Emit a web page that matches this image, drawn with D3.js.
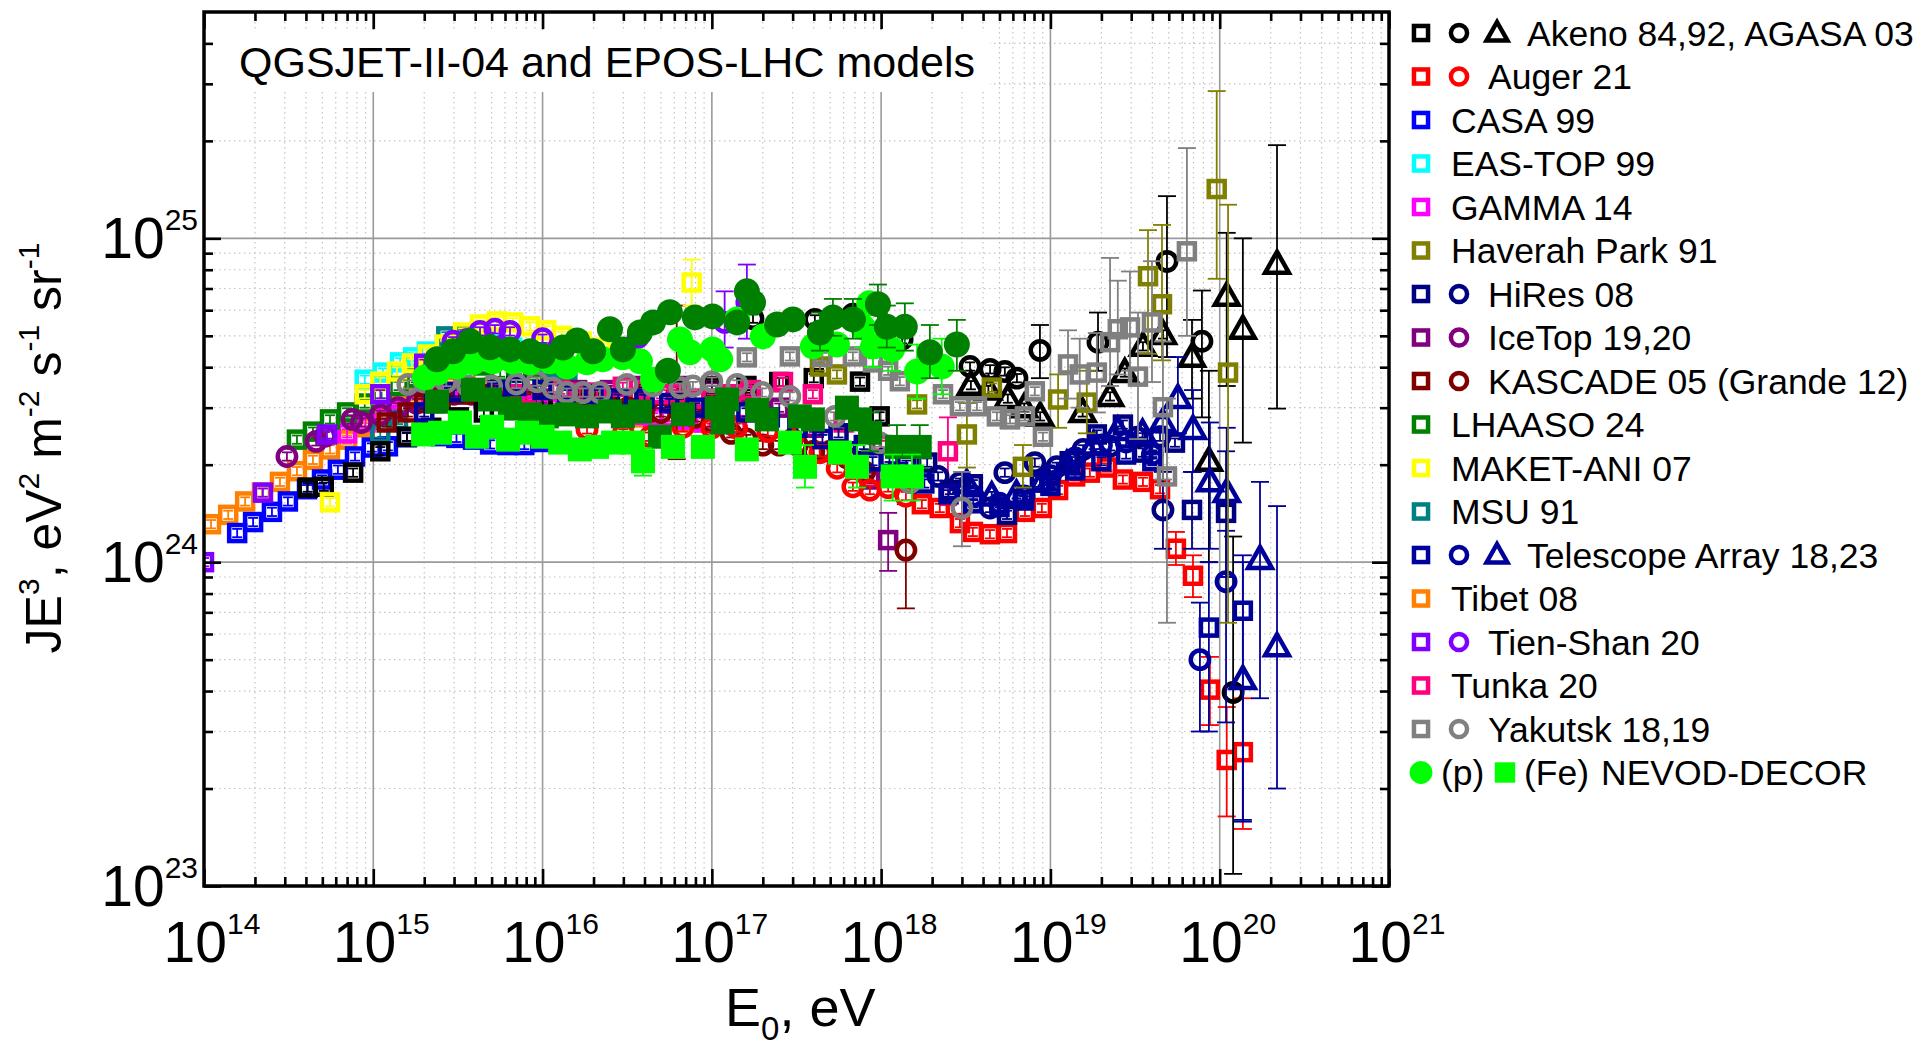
<!DOCTYPE html>
<html>
<head>
<meta charset="utf-8">
<script src="https://cdn.jsdelivr.net/npm/d3@7"></script>
<style>
  body { margin: 0; background: #fff; }
  text { font-family: "Liberation Sans", Arial, sans-serif; fill: #000; }
</style>
</head>
<body>
<svg id="chart" width="1920" height="1048"></svg>
<script>
// ---- data: [E (eV), JE^3, errLow, errHigh] ; errors only where the bar is visible
const tibet = [[1.1e14,1.31e24],[1.39e14,1.40e24],[1.75e14,1.54e24],[2.2e14,1.64e24],[2.81e14,1.77e24],[3.54e14,1.91e24],[4.4e14,2.07e24],[5.55e14,2.23e24],[7.0e14,2.39e24],[8.9e14,2.61e24],[1.12e15,2.82e24],[1.4e15,3.03e24],[1.72e15,3.25e24],[2.2e15,3.4e24],[2.8e15,3.5e24],[3.5e15,3.5e24],[4.5e15,3.4e24],[5.6e15,3.3e24],[7e15,3.2e24],[9e15,3.1e24],[1.1e16,3.0e24],[1.4e16,3.0e24],[1.8e16,2.9e24],[2.2e16,2.9e24],[2.8e16,2.9e24],[3.5e16,2.8e24],[4.5e16,2.8e24],[5.6e16,2.8e24],[7e16,2.7e24],[9e16,2.7e24]];
const casa = [[1.57e14,1.23e24],[1.95e14,1.33e24],[2.52e14,1.43e24],[3.13e14,1.54e24],[4.06e14,1.68e24],[4.98e14,1.80e24],[6.18e14,1.93e24],[7.8e14,2.12e24],[9.8e14,2.26e24],[1.22e15,2.28e24],[1.58e15,2.43e24],[1.94e15,2.51e24],[2.5e15,2.45e24],[3.1e15,2.42e24],[3.88e15,2.39e24],[4.9e15,2.31e24],[6.2e15,2.3e24],[7.8e15,2.3e24],[9.8e15,2.35e24]];
const easTop = [[8.9e14,3.66e24],[1.14e15,3.85e24],[1.44e15,4.14e24],[1.72e15,4.29e24],[2.07e15,4.47e24],[2.65e15,4.7e24],[3.3e15,4.8e24],[4.2e15,4.8e24],[5.3e15,4.7e24],[6.6e15,4.6e24]];
const gamma = [[7e14,2.5e24],[9e14,2.7e24],[1.2e15,2.85e24],[1.4e15,2.95e24],[1.8e15,3.15e24],[2.2e15,3.3e24],[2.8e15,3.35e24],[3.5e15,3.3e24],[4.5e15,3.2e24],[5.6e15,3.15e24],[7e15,3.1e24],[9e15,3.05e24],[1.1e16,3.0e24],[1.4e16,3.0e24],[1.8e16,2.95e24],[2.2e16,2.9e24],[2.8e16,2.9e24],[3.5e16,2.85e24],[4.5e16,2.8e24],[5.6e16,2.8e24],[7e16,2.75e24],[9e16,2.7e24],[1.1e17,2.7e24],[1.4e17,2.65e24]];
const maket = [[5.55e14,1.53e24],[8.9e14,3.3e24],[1.1e15,3.61e24],[1.38e15,3.88e24],[1.69e15,4.11e24],[2.1e15,4.38e24],[2.65e15,4.7e24],[3.39e15,5.12e24],[4.27e15,5.42e24],[5.38e15,5.54e24],[6.69e15,5.5e24],[8.43e15,5.35e24],[1.05e16,5.2e24],[1.3e16,5.0e24],[1.7e16,4.8e24],[2.2e16,4.6e24],[3e16,4.3e24],[7.6e16,7.3e24,6.2e24,8.6e24]];
const msu = [[1.1e15,2.5e24],[1.4e15,2.75e24],[2.0e15,3.5e24],[2.7e15,4.98e24],[3.5e15,5.0e24],[4.5e15,4.8e24],[5.6e15,4.6e24],[7.1e15,4.4e24],[9e15,4.2e24],[1.1e16,4.0e24],[1.4e16,3.9e24]];
const lhaaso = [[3.54e14,2.39e24],[4.4e14,2.53e24],[5.55e14,2.76e24],[7.0e14,2.90e24],[8.9e14,3.09e24],[1.12e15,3.3e24],[1.41e15,3.5e24],[1.78e15,3.7e24],[2.24e15,3.9e24],[2.82e15,4.05e24],[3.55e15,4.15e24],[4.47e15,4.05e24],[5.62e15,3.85e24],[7.08e15,3.7e24],[8.91e15,3.55e24],[1.12e16,3.45e24],[1.41e16,3.35e24],[1.78e16,3.3e24],[2.24e16,3.25e24],[2.82e16,3.2e24]];
const tienShanSq = [[1.0e14,1.0e24],[2.23e14,1.64e24],[5.33e14,2.48e24],[1.1e15,3.3e24],[2e15,4.1e24],[3e15,4.5e24]];
const tienShanCirc = [[2.96e15,4.81e24],[3.58e15,4.87e24],[4.27e15,5.16e24],[5.23e15,5.24e24],[6.42e15,5.16e24],[1e16,4.9e24],[3.66e16,4.94e24],[1.19e17,5.5e24,4.6e24,6.86e24],[1.61e17,6.34e24,4.9e24,8.3e24]];
const iceTopCirc = [[3.09e14,2.12e24],[4.6e14,2.36e24],[5.2e14,2.45e24],[7.5e14,2.76e24],[8.5e14,2.7e24],[1.1e15,2.85e24],[1.4e15,3.0e24],[1.8e15,3.1e24],[2.3e15,3.2e24],[3e15,3.3e24],[3.8e15,3.3e24],[5e15,3.2e24]];
const iceTopSq = [[3e15,3.3e24],[4.5e15,3.2e24],[6.3e15,3.1e24],[1e16,3.2e24],[1.6e16,3.4e24],[2.5e16,3.4e24],[4e16,3.5e24],[6.3e16,3.5e24],[1e17,3.4e24],[1.6e17,3.3e24],[2.5e17,3.0e24],[4e17,2.6e24],[6.3e17,2.2e24],[8.6e17,1.8e24],[1.1e18,1.17e24,9.4e23,1.42e24]];
const kascadeSq = [[1.2e15,2.7e24],[1.6e15,2.9e24],[2e15,3.1e24],[2.5e15,3.2e24],[3.2e15,3.3e24],[4e15,3.3e24],[5e15,3.3e24],[6.3e15,3.3e24],[8e15,3.2e24],[1e16,3.1e24],[1.6e16,3.0e24],[2.5e16,2.9e24],[4e16,2.9e24],[6.3e16,3.0e24],[1e17,3.1e24]];
const kascadeCirc = [[1.6e16,3.2e24],[2e16,3.1e24],[2.5e16,3.0e24],[3.2e16,3.0e24],[4e16,3.0e24],[5e16,2.9e24],[6.2e16,3.3e24,2.08e24,6.2e24],[8e16,2.8e24],[1e17,2.7e24],[1.3e17,2.5e24],[1.6e17,2.4e24],[2e17,2.3e24],[2.5e17,2.3e24],[3.2e17,2.3e24],[4e17,2.2e24],[5e17,2.2e24],[6.3e17,2.1e24],[8e17,1.9e24],[1.4e18,1.09e24,7.2e23,1.51e24]];
const akenoSq = [[4.1e14,1.70e24],[5.1e14,1.71e24],[7.6e14,1.89e24],[1.1e15,2.2e24],[1.58e15,2.44e24],[2.2e15,2.6e24],[3.2e15,2.8e24],[4.5e15,2.9e24],[6.3e15,3.0e24],[1e16,3.1e24],[1.6e16,3.1e24],[2.5e16,3.2e24],[4e16,3.3e24],[6.3e16,3.4e24],[1e17,3.5e24],[1.6e17,3.5e24],[2.5e17,3.6e24],[4e17,3.7e24],[7.5e17,3.61e24],[9.8e17,2.82e24]];
const akenoCirc = [[1.75e17,5.65e24],[4.06e17,5.62e24],[6.8e17,5.83e24],[1.33e18,4.88e24],[3.35e18,4.02e24],[4.4e18,3.94e24],[5.38e18,3.88e24],[6.34e18,3.7e24],[8.67e18,4.51e24,3.7e24,5.4e24],[1.91e19,4.78e24,3.9e24,5.9e24],[4.88e19,8.49e24,4.3e24,1.35e25],[7.85e19,4.81e24,2.8e24,6.9e24],[1.2e20,3.96e23,1.09e23,1.2e24]];
const agasaTri = [[3.39e18,3.52e24],[4.3e18,3.4e24],[5.6e18,3.2e24],[7e18,3.0e24],[8.7e18,2.82e24],[1.55e19,2.9e24],[2.25e19,3.25e24],[2.75e19,3.85e24],[3.52e19,4.64e24],[4.62e19,5.05e24],[6.86e19,4.29e24,3.2e24,5.6e24],[8.63e19,2.05e24,1.0e24,3.9e24],[1.10e20,6.62e24,3.5e24,1.04e25],[1.37e20,5.24e24,2.34e24,1.0e25],[2.18e20,8.32e24,2.98e24,1.94e25]];
const tunka = [[6e15,3.3e24],[8e15,3.3e24],[1e16,3.4e24],[1.27e16,3.41e24],[1.66e16,3.34e24],[2.1e16,3.34e24],[2.98e16,3.48e24],[4e16,3.4e24],[5e16,3.3e24],[6.3e16,3.3e24],[8e16,3.2e24],[1e17,3.2e24],[1.3e17,3.3e24],[1.7e17,3.4e24],[2.63e17,3.6e24],[3.95e17,3.3e24],[6e17,2.7e24],[1e18,2.3e24],[2.48e18,2.2e24,1.5e24,2.8e24]];
const augerCirc = [[1.83e16,2.57e24],[3e16,2.5e24],[4.31e16,2.44e24],[6.75e16,2.61e24],[1e17,2.6e24],[1.4e17,2.6e24],[2.14e17,2.53e24],[3e17,2.4e24],[4.35e17,2.18e24],[5.5e17,1.95e24],[6.81e17,1.71e24],[8.58e17,1.67e24],[1.1e18,1.7e24],[1.4e18,1.6e24]];
const augerSq = [[1.74e18,1.51e24],[2.22e18,1.47e24],[2.92e18,1.32e24],[3.48e18,1.24e24],[4.39e18,1.22e24],[5.54e18,1.23e24],[7.07e18,1.43e24],[8.9e18,1.47e24],[1.11e19,1.67e24],[1.4e19,1.84e24],[1.71e19,1.89e24],[2.16e19,1.96e24],[2.68e19,1.8e24],[3.52e19,1.77e24],[4.44e19,1.68e24],[5.51e19,1.10e24,9.8e23,1.24e24],[6.95e19,9.08e23,7.8e23,1.05e24],[8.75e19,4.04e23,3.14e23,5.1e23],[1.10e20,2.45e23,1.64e23,3.57e23],[1.37e20,2.59e23,1.5e23,3.8e23]];
const hiresSq = [[5.6e17,2.5e24],[7.9e17,2.3e24],[1.12e18,2.1e24],[1.41e18,2.0e24],[1.87e18,2.03e24],[2.55e18,1.67e24],[3.48e18,1.74e24],[5.54e18,1.40e24],[6.88e18,1.56e24],[8.67e18,1.76e24],[1.3e19,2.05e24],[1.88e19,2.48e24],[2.68e19,2.66e24],[3.52e19,2.18e24],[5.44e19,2.34e24],[6.86e19,1.45e24,1.1e24,1.9e24],[1.09e20,1.42e24,9.0e23,2.2e24]];
const hiresCirc = [[2.17e18,1.84e24],[2.92e18,1.76e24],[4.4e18,1.47e24],[5.38e18,1.89e24],[8.09e18,2.03e24],[1.09e19,1.97e24],[1.56e19,2.23e24],[2.25e19,2.28e24],[3.24e19,2.43e24],[4.44e19,2.44e24],[4.62e19,1.45e24,1.1e24,1.9e24]];
const taSq = [[2.0e15,2.9e24],[2.3e15,3.1e24],[3.0e15,3.35e24],[3.8e15,3.4e24],[5.4e15,3.4e24],[7e15,3.5e24],[1e16,3.4e24],[1.4e16,3.3e24],[2e16,3.3e24],[2.8e16,3.2e24],[4e16,3.2e24],[5.6e16,3.1e24],[8e16,3.0e24],[1.1e17,3.0e24],[1.6e17,2.9e24],[2.2e17,2.8e24],[3.2e17,2.6e24],[4.5e17,2.4e24],[6.3e17,2.2e24],[8.9e17,2.05e24],[1.26e18,1.9e24],[1.8e18,1.75e24],[2.5e18,1.62e24],[3.5e18,1.52e24],[5e18,1.48e24],[7e18,1.55e24],[1e19,1.72e24],[1.4e19,1.92e24],[2e19,2.05e24],[2.8e19,2.15e24],[4e19,2.05e24],[8.63e19,6.28e23,3.0e23,1.0e24],[1.37e20,7.08e23,1.58e23,1.05e24]];
const taCirc = [[3.5e18,1.6e24],[5e18,1.52e24],[7e18,1.6e24],[1e19,1.85e24],[1.4e19,2.1e24],[2e19,2.3e24],[2.8e19,2.35e24],[4e19,2.15e24],[7.64e19,5.0e23,3.0e23,7.5e23],[1.09e20,8.71e23,3.2e23,1.25e24]];
const taTri = [[3.2e18,1.75e24],[4.5e18,1.6e24],[6.3e18,1.62e24],[9e18,1.78e24],[1.25e19,2.0e24],[1.8e19,2.3e24],[2.5e19,2.55e24],[3.5e19,2.5e24],[4.6e19,2.7e24],[5.66e19,3.2e24,2.5e24,4.3e24],[6.95e19,2.57e24,1.9e24,3.4e24],[8.75e19,1.77e24,1.1e24,2.7e24],[1.10e20,1.64e24,9e23,2.6e24],[1.37e20,4.34e23,1.6e23,1.0e24],[1.73e20,1.02e24,3.8e23,1.77e24],[2.18e20,5.48e23,2.0e23,1.49e24]];
const haverah = [[4.35e17,4.02e24],[5.48e17,3.8e24],[1.63e18,3.07e24],[3.21e18,2.48e24,1.96e24,3.1e24],[4.51e18,3.46e24],[6.88e18,1.97e24,1.7e24,2.3e24],[1.11e19,3.18e24,2.6e24,3.8e24],[1.64e19,3.11e24,2.5e24,3.9e24],[3.77e19,7.64e24,4.4e24,1.06e25],[4.56e19,6.26e24,4.2e24,1.1e25],[9.6e19,1.42e25,7.5e24,2.85e25],[1.12e20,3.85e24,6.5e23,1.27e25]];
const yakutskCirc = [[1.6e15,3.54e24],[2e15,3.6e24],[2.7e15,3.6e24],[3.6e15,3.5e24],[5e15,3.5e24],[7e15,3.55e24],[9.27e15,3.61e24],[1.15e16,3.45e24],[1.39e16,3.34e24],[1.73e16,3.34e24],[2.18e16,3.34e24],[3.15e16,3.54e24],[4.5e16,3.5e24],[6.48e16,3.46e24],[7.73e16,3.5e24],[1.0e17,3.61e24],[1.41e17,3.54e24],[1.98e17,3.34e24],[2.89e17,3.25e24],[5.33e17,2.82e24],[9.8e17,2.34e24],[1.48e18,1.76e24],[3.0e18,1.47e24,1.12e24,1.9e24]];
const yakutskSq = [[1.61e17,4.29e24],[2.89e17,4.32e24],[4.5e17,4.3e24],[6.81e17,4.32e24],[8.95e17,4.14e24],[1.1e18,3.9e24],[1.29e18,3.62e24],[2.32e18,3.3e24],[2.92e18,3.03e24],[3.68e18,3.03e24],[4.83e18,2.82e24],[5.77e18,2.76e24],[7.07e18,2.82e24],[8.09e18,3.37e24],[9.03e18,2.44e24],[1.27e19,4.08e24,3.2e24,5.2e24],[1.49e19,3.8e24,3.0e24,4.9e24],[1.88e19,3.85e24,2.9e24,5.1e24],[2.25e19,4.78e24,3.5e24,8.7e24],[2.5e19,5.24e24,3.8e24,7.4e24],[2.95e19,5.31e24,3.9e24,7.9e24],[3.29e19,3.74e24,2.4e24,5.9e24],[3.98e19,5.5e24,3.6e24,8.5e24],[4.62e19,3.01e24,1.8e24,4.8e24],[4.88e19,1.84e24,6.5e23,3.2e24],[6.4e19,9.12e24,5.0e24,1.9e25]];
// NEVOD-DECOR, two interaction models (dark / light green)
const nevodFeDark = [[2.38e15,3.13e24],[3.88e15,3.41e24],[4.89e15,3.18e24],[6.42e15,2.98e24],[8.43e15,2.86e24],[1.06e16,2.82e24],[1.39e16,2.86e24],[1.83e16,2.82e24],[2.5e16,2.92e24],[2.98e16,2.82e24],[3.76e16,2.92e24],[4.93e16,2.44e24],[6.75e16,2.86e24],[1.07e17,3.0e24],[1.23e17,3.18e24],[1.16e17,2.7e24],[1.85e17,2.95e24],[2.11e17,2.76e24],[3.31e17,2.82e24],[3.95e17,2.76e24],[6.28e17,3.0e24],[7.5e17,2.76e24],[8.6e17,2.51e24,2.2e24,2.9e24],[1.24e18,2.27e24,1.95e24,2.65e24],[1.69e18,2.27e24,1.95e24,2.65e24]];
const nevodFeLight = [[1.97e15,2.48e24],[2.48e15,2.51e24],[3.25e15,2.70e24],[4.10e15,2.44e24],[5.03e15,2.62e24],[6.25e15,2.39e24],[8.09e15,2.51e24],[1.0e16,2.44e24],[1.27e16,2.34e24],[1.66e16,2.23e24],[2.10e16,2.27e24],[2.61e16,2.34e24],[3.42e16,2.34e24],[3.92e16,2.05e24,1.85e24,2.25e24],[5.89e16,2.27e24],[8.85e16,2.27e24],[1.61e17,2.23e24],[2.89e17,2.34e24],[3.55e17,1.97e24,1.7e24,2.3e24],[5.71e17,2.18e24],[7.2e17,1.97e24,1.7e24,2.3e24],[1.17e18,1.84e24,1.55e24,2.15e24],[1.52e18,1.84e24,1.55e24,2.15e24]];
const nevodPLight = [[2.02e15,3.72e24],[2.41e15,3.85e24],[3.12e15,4.02e24],[3.88e15,4.14e24],[5.09e15,4.17e24],[6.69e15,4.17e24],[8.43e15,4.14e24],[1.11e16,4.17e24],[1.39e16,4.02e24],[1.83e16,4.14e24],[2.27e16,4.23e24],[2.98e16,4.29e24],[3.76e16,4.17e24],[4.49e16,3.66e24],[6.48e16,4.87e24],[7.43e16,4.45e24],[1.01e17,4.54e24],[1.12e17,4.23e24],[1.41e17,5.62e24],[2.0e17,4.98e24],[3.95e17,4.64e24],[5.48e17,4.70e24],[7.81e17,5.31e24,4.6e24,6.1e24],[8.5e17,6.3e24],[8.95e17,4.64e24,4.0e24,5.4e24],[1.16e18,4.54e24,3.9e24,5.3e24],[1.63e18,3.88e24,3.2e24,4.7e24],[2.28e18,4.02e24,3.3e24,4.9e24]];
const nevodPDark = [[2.38e15,4.23e24],[2.96e15,4.48e24],[3.73e15,4.81e24],[4.89e15,4.61e24],[6.42e15,4.54e24],[8.43e15,4.48e24],[1.0e16,4.34e24],[1.32e16,4.60e24],[1.60e16,4.84e24],[1.99e16,4.48e24],[2.50e16,5.24e24],[2.98e16,4.54e24],[3.76e16,5.12e24],[4.49e16,5.50e24],[5.5e16,3.9e24],[5.65e16,5.91e24],[7.94e16,5.70e24],[1.01e17,5.74e24],[1.41e17,5.50e24],[1.61e17,6.86e24],[1.75e17,6.34e24],[2.43e17,5.42e24],[3.01e17,5.62e24],[4.35e17,5.12e24,4.5e24,5.9e24],[5.19e17,5.70e24,5.0e24,6.5e24],[6.81e17,5.62e24,4.9e24,6.5e24],[9.57e17,6.26e24,5.4e24,7.2e24],[1.08e18,5.33e24,4.6e24,6.2e24],[1.38e18,5.33e24,4.5e24,6.3e24],[1.94e18,4.45e24,3.7e24,5.4e24],[2.80e18,4.70e24,3.9e24,5.6e24]];

// ---- colours
const cBlack = '#000000', cRed = '#ff0000', cBlue = '#0000ff', cCyan = '#00ffff', cMagenta = '#ff00ff';
const cOlive = '#808000', cNavy = '#000080', cTA = '#00009a', cPurple = '#800080', cMaroon = '#800000';
const cGreen = '#008000', cYellow = '#ffff00', cTeal = '#008080', cOrange = '#ff8000', cViolet = '#8000ff';
const cPink = '#ff0080', cGrey = '#808080', cLime = '#00ff00';

// ---- layout
const X0 = 204, X1 = 1389, Y0 = 12, Y1 = 886;
const svg = d3.select('#chart');
const x = d3.scaleLog().domain([1e14, 1e21]).range([X0, X1]);
const y = d3.scaleLog().domain([1e23, 5e25]).range([Y1, Y0]);

const xMajor = d3.range(14, 22).map(e => Math.pow(10, e));
const xMinor = [];
for (let e = 14; e < 21; e++) for (let k = 2; k <= 9; k++) xMinor.push(k * Math.pow(10, e));
const yMajor = [1e23, 1e24, 1e25];
const yMinor = [];
for (let e = 23; e < 26; e++) for (let k = 2; k <= 9; k++) { const v = k * Math.pow(10, e); if (v < 5e25) yMinor.push(v); }

// ---- grid
const grid = svg.append('g');
grid.selectAll('.gxm').data(xMinor).join('line')
  .attr('x1', d => x(d)).attr('x2', d => x(d)).attr('y1', Y0).attr('y2', Y1)
  .attr('stroke', '#c4c4c4').attr('stroke-width', 1.2).attr('stroke-dasharray', '1.5,3.5');
grid.selectAll('.gym').data(yMinor).join('line')
  .attr('y1', d => y(d)).attr('y2', d => y(d)).attr('x1', X0).attr('x2', X1)
  .attr('stroke', '#c4c4c4').attr('stroke-width', 1.2).attr('stroke-dasharray', '1.5,3.5');
grid.selectAll('.gx').data(xMajor.slice(1, -1)).join('line')
  .attr('x1', d => x(d)).attr('x2', d => x(d)).attr('y1', Y0).attr('y2', Y1)
  .attr('stroke', '#9a9a9a').attr('stroke-width', 1.6);
grid.selectAll('.gy').data([1e24, 1e25]).join('line')
  .attr('y1', d => y(d)).attr('y2', d => y(d)).attr('x1', X0).attr('x2', X1)
  .attr('stroke', '#9a9a9a').attr('stroke-width', 1.6);

// title box
svg.append('rect').attr('x', 212).attr('y', 30).attr('width', 778).attr('height', 62).attr('fill', '#fff');
svg.append('text').attr('x', 239).attr('y', 77).attr('font-size', 43)
  .text('QGSJET-II-04 and EPOS-LHC models');

// ---- markers (k scales the symbol, legend uses a smaller one)
function addShape(sel, shape, color, filled, k = 1) {
  if (shape === 'square') {
    const s = (filled ? 24 : 16) * k;
    sel.append('rect').attr('x', -s / 2).attr('y', -s / 2).attr('width', s).attr('height', s)
      .attr('fill', filled ? color : 'none').attr('stroke', color).attr('stroke-width', filled ? 0 : 4.5);
  } else if (shape === 'circle') {
    sel.append('circle').attr('r', (filled ? 13 : 9.2) * k)
      .attr('fill', filled ? color : 'none').attr('stroke', color).attr('stroke-width', filled ? 0 : 4.5);
  } else {
    const a = 12.5 * k;
    sel.append('path').attr('d', `M0,${-a}L${a * 0.95},${a * 0.68}L${-a * 0.95},${a * 0.68}Z`)
      .attr('fill', 'none').attr('stroke', color).attr('stroke-width', 4.5).attr('stroke-linejoin', 'miter');
  }
}

svg.append('clipPath').attr('id', 'clip').append('rect')
  .attr('x', X0).attr('y', Y0).attr('width', X1 - X0).attr('height', Y1 - Y0);
const plot = svg.append('g').attr('clip-path', 'url(#clip)');

function drawSeries(data, color, shape, filled, relErr) {
  const g = plot.append('g');
  const pts = g.selectAll('g.pt').data(data).join('g')
    .attr('transform', d => `translate(${x(d[0])},${y(d[1])})`);
  addShape(pts, shape, color, filled);
  const bars = g.selectAll('g.eb').data(data).join('g')
    .attr('transform', d => `translate(${x(d[0])},0)`);
  const lo = d => d.length > 2 ? d[2] : d[1] / (1 + relErr);
  const hi = d => d.length > 2 ? d[3] : d[1] * (1 + relErr);
  const cw = d => d.length > 2 ? 9 : 5;
  bars.append('line').attr('y1', d => y(lo(d))).attr('y2', d => y(hi(d)))
    .attr('stroke', color).attr('stroke-width', 1.8);
  bars.append('line').attr('x1', d => -cw(d)).attr('x2', d => cw(d))
    .attr('y1', d => y(lo(d))).attr('y2', d => y(lo(d))).attr('stroke', color).attr('stroke-width', 1.8);
  bars.append('line').attr('x1', d => -cw(d)).attr('x2', d => cw(d))
    .attr('y1', d => y(hi(d))).attr('y2', d => y(hi(d))).attr('stroke', color).attr('stroke-width', 1.8);
}

drawSeries(tibet, cOrange, 'square', false, 0.03);
drawSeries(casa, cBlue, 'square', false, 0.03);
drawSeries(easTop, cCyan, 'square', false, 0.03);
drawSeries(gamma, cMagenta, 'square', false, 0.03);
drawSeries(lhaaso, cGreen, 'square', false, 0.03);
drawSeries(msu, cTeal, 'square', false, 0.03);
drawSeries(iceTopCirc, cPurple, 'circle', false, 0.03);
drawSeries(iceTopSq, cPurple, 'square', false, 0.03);
drawSeries(kascadeSq, cMaroon, 'square', false, 0.03);
drawSeries(kascadeCirc, cMaroon, 'circle', false, 0.03);
drawSeries(akenoSq, cBlack, 'square', false, 0.03);
drawSeries(tunka, cPink, 'square', false, 0.03);
drawSeries(augerCirc, cRed, 'circle', false, 0.03);
drawSeries(augerSq, cRed, 'square', false, 0.03);
drawSeries(akenoCirc, cBlack, 'circle', false, 0.03);
drawSeries(agasaTri, cBlack, 'triangle', false, 0.03);
drawSeries(hiresSq, cNavy, 'square', false, 0.03);
drawSeries(hiresCirc, cNavy, 'circle', false, 0.03);
drawSeries(taSq, cTA, 'square', false, 0.03);
drawSeries(taCirc, cTA, 'circle', false, 0.03);
drawSeries(taTri, cTA, 'triangle', false, 0.03);
drawSeries(haverah, cOlive, 'square', false, 0.03);
drawSeries(maket, cYellow, 'square', false, 0.03);
drawSeries(tienShanSq, cViolet, 'square', false, 0.03);
drawSeries(tienShanCirc, cViolet, 'circle', false, 0.03);
drawSeries(yakutskCirc, cGrey, 'circle', false, 0.03);
drawSeries(yakutskSq, cGrey, 'square', false, 0.03);
drawSeries(nevodFeDark, cGreen, 'square', true, 0.03);
drawSeries(nevodFeLight, cLime, 'square', true, 0.03);
drawSeries(nevodPLight, cLime, 'circle', true, 0.03);
drawSeries(nevodPDark, cGreen, 'circle', true, 0.03);

// ---- frame and ticks (inward on all sides)
const axes = svg.append('g');
function tickAxis(axisFn, scale, vals, len, tr) {
  axes.append('g').attr('transform', tr)
    .call(axisFn(scale).tickValues(vals).tickSize(-len).tickFormat(''))
    .call(g => g.select('.domain').remove())
    .call(g => g.selectAll('line').attr('stroke', '#000').attr('stroke-width', 2.6));
}
tickAxis(d3.axisBottom, x, xMajor, 17, `translate(0,${Y1})`);
tickAxis(d3.axisBottom, x, xMinor, 9, `translate(0,${Y1})`);
tickAxis(d3.axisTop, x, xMajor, 17, `translate(0,${Y0})`);
tickAxis(d3.axisTop, x, xMinor, 9, `translate(0,${Y0})`);
tickAxis(d3.axisLeft, y, yMajor, 17, `translate(${X0},0)`);
tickAxis(d3.axisLeft, y, yMinor, 9, `translate(${X0},0)`);
tickAxis(d3.axisRight, y, yMajor, 17, `translate(${X1},0)`);
tickAxis(d3.axisRight, y, yMinor, 9, `translate(${X1},0)`);
axes.append('rect').attr('x', X0).attr('y', Y0).attr('width', X1 - X0).attr('height', Y1 - Y0)
  .attr('fill', 'none').attr('stroke', '#000').attr('stroke-width', 3.5);

// tick labels
xMajor.forEach(v => {
  const t = svg.append('text').attr('x', x(v) + 8).attr('y', 962).attr('text-anchor', 'middle').attr('font-size', 57);
  t.append('tspan').text('10');
  t.append('tspan').attr('font-size', 30).attr('dy', -28).text(Math.round(Math.log10(v)));
});
yMajor.forEach(v => {
  const t = svg.append('text').attr('x', 198).attr('y', y(v) + 20).attr('text-anchor', 'end').attr('font-size', 57);
  t.append('tspan').text('10');
  t.append('tspan').attr('font-size', 30).attr('dy', -28).text(Math.round(Math.log10(v)));
});

// axis titles
const xt = svg.append('text').attr('x', 725).attr('y', 1026).attr('font-size', 54);
xt.append('tspan').text('E');
xt.append('tspan').attr('font-size', 33).attr('dy', 14).text('0');
xt.append('tspan').attr('dy', -14).text(', eV');

const yt = svg.append('text').attr('transform', 'translate(61,448) rotate(-90)')
  .attr('text-anchor', 'middle').attr('font-size', 50);
[['JE', '3'], [', eV', '2'], [' m', '-2'], [' s', '-1'], [' sr', '-1']].forEach((p, i) => {
  yt.append('tspan').attr('dy', i === 0 ? 0 : 22).text(p[0]);
  yt.append('tspan').attr('font-size', 30).attr('dy', -22).text(p[1]);
});

// ---- legend
const legendRows = [
  { label: 'Akeno 84,92, AGASA 03', color: cBlack, marks: ['square', 'circle', 'triangle'] },
  { label: 'Auger 21', color: cRed, marks: ['square', 'circle'] },
  { label: 'CASA 99', color: cBlue, marks: ['square'] },
  { label: 'EAS-TOP 99', color: cCyan, marks: ['square'] },
  { label: 'GAMMA 14', color: cMagenta, marks: ['square'] },
  { label: 'Haverah Park 91', color: cOlive, marks: ['square'] },
  { label: 'HiRes 08', color: cNavy, marks: ['square', 'circle'] },
  { label: 'IceTop 19,20', color: cPurple, marks: ['square', 'circle'] },
  { label: 'KASCADE 05 (Grande 12)', color: cMaroon, marks: ['square', 'circle'] },
  { label: 'LHAASO 24', color: cGreen, marks: ['square'] },
  { label: 'MAKET-ANI 07', color: cYellow, marks: ['square'] },
  { label: 'MSU 91', color: cTeal, marks: ['square'] },
  { label: 'Telescope Array 18,23', color: cTA, marks: ['square', 'circle', 'triangle'] },
  { label: 'Tibet 08', color: cOrange, marks: ['square'] },
  { label: 'Tien-Shan 20', color: cViolet, marks: ['square', 'circle'] },
  { label: 'Tunka 20', color: cPink, marks: ['square'] },
  { label: 'Yakutsk 18,19', color: cGrey, marks: ['square', 'circle'] }
];
const markX = [1421, 1459, 1497];
const textX = [1451, 1488, 1527];
const rowY = i => 33 + 43.5 * i;
const legend = svg.append('g');
legendRows.forEach((r, i) => {
  r.marks.forEach((m, j) => {
    const g = legend.append('g').attr('transform', `translate(${markX[j]},${rowY(i)})`);
    addShape(g, m, r.color, false, 0.88);
  });
  legend.append('text').attr('x', textX[r.marks.length - 1]).attr('y', rowY(i) + 12.5)
    .attr('font-size', 35.5).text(r.label);
});
const ny = rowY(17);
addShape(legend.append('g').attr('transform', `translate(1421,${ny})`), 'circle', cLime, true, 0.88);
legend.append('text').attr('x', 1441).attr('y', ny + 12.5).attr('font-size', 35.5).text('(p)');
addShape(legend.append('g').attr('transform', `translate(1505,${ny})`), 'square', cLime, true, 0.85);
legend.append('text').attr('x', 1524).attr('y', ny + 12.5).attr('font-size', 35.5).text('(Fe)');
legend.append('text').attr('x', 1601).attr('y', ny + 12.5).attr('font-size', 35.5).text('NEVOD-DECOR');
</script>
</body>
</html>
